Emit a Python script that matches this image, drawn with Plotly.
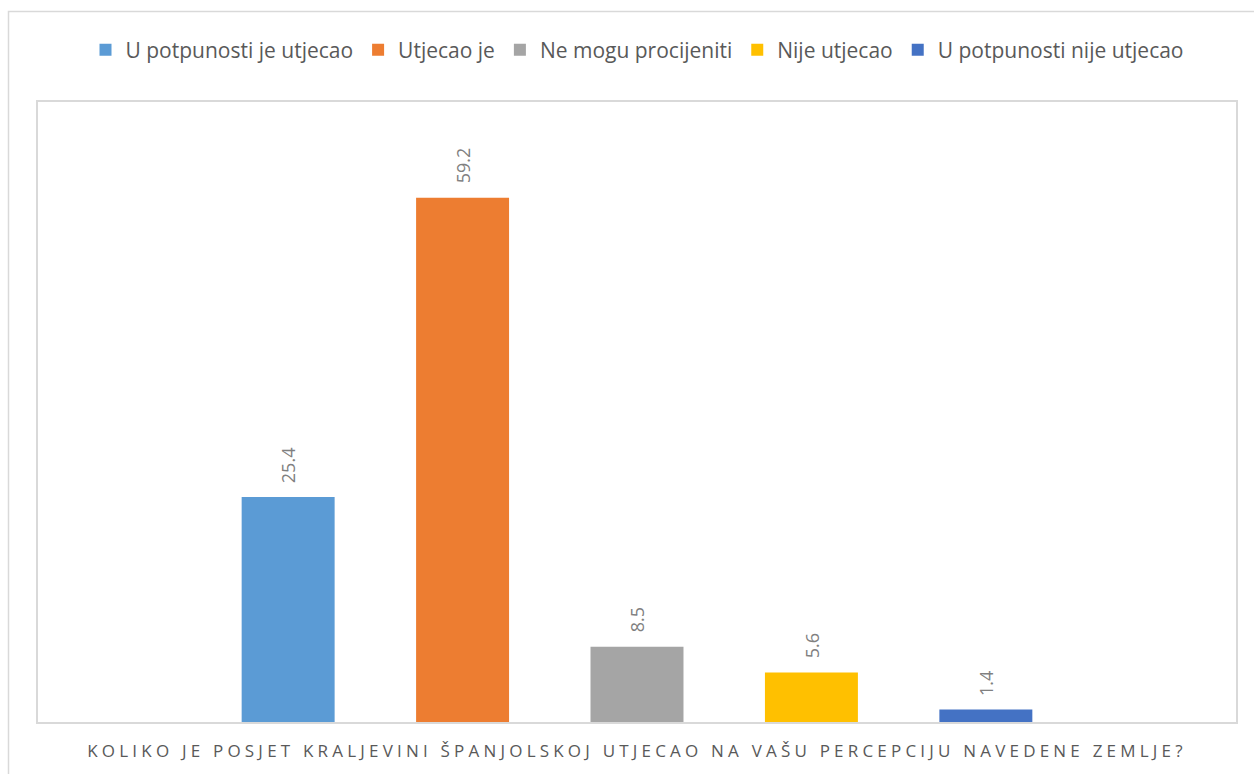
import plotly.graph_objects as go

category = ["KOLIKO JE POSJET KRALJEVINI ŠPANJOLSKOJ UTJECAO NA VAŠU PERCEPCIJU NAVEDENE ZEMLJE?"]
series_names = ["U potpunosti je utjecao", "Utjecao je", "Ne mogu procijeniti",
                "Nije utjecao", "U potpunosti nije utjecao"]
series_values = [25.4, 59.2, 8.5, 5.6, 1.4]
series_colors = ["#5B9BD5", "#ED7D31", "#A5A5A5", "#FFC000", "#4472C4"]

FONT = "Open Sans"
W, H = 1254, 774
L, R, T, B = 38, 18, 102, 52
pw, ph = W - L - R, H - T - B
BARGAP, GROUPGAP = 0.272, 0.467
slot = (1 - BARGAP) * pw / len(series_names)

def px(x):
    return (x - L) / pw

def py(y):
    return (H - B - y) / ph

fig = go.Figure()
annotations = []
n = len(series_names)
for i, (name, val, col) in enumerate(zip(series_names, series_values, series_colors)):
    fig.add_trace(go.Bar(
        x=category, y=[val], name=name, marker_color=col, marker_line_width=0,
    ))
    annotations.append(dict(
        x=category[0], y=val, xref="x", yref="y", text=f"{val:.1f}", showarrow=False,
        textangle=-90, xanchor="center", yanchor="bottom",
        xshift=(i - (n - 1) / 2) * slot, yshift=12,
        font=dict(family=FONT, size=18, color="#808080"),
    ))

fig.update_layout(
    width=W, height=H,
    margin=dict(l=L, r=R, t=T, b=B, autoexpand=False),
    paper_bgcolor="white", plot_bgcolor="white",
    barmode="group", bargap=BARGAP, bargroupgap=GROUPGAP,
    showlegend=True,
    legend=dict(orientation="h", x=0.5, xanchor="center", y=py(50), yanchor="middle",
                font=dict(family=FONT, size=21, color="#595959"),
                traceorder="normal"),
    xaxis=dict(showline=True, linecolor="#D9D9D9", linewidth=1.5, mirror=True,
               showgrid=False, ticks="", zeroline=False, ticklabelstandoff=13,
               tickfont=dict(family=FONT, size=17, color="#595959")),
    yaxis=dict(range=[0, 70], showline=True, linecolor="#D9D9D9", linewidth=1.5, mirror=True,
               showgrid=False, showticklabels=False, ticks="", zeroline=False),
    annotations=annotations,
    shapes=[dict(type="rect", xref="paper", yref="paper",
                 x0=px(8.5), x1=px(1262), y0=py(782), y1=py(11.5),
                 line=dict(color="#D9D9D9", width=1.5), layer="below")],
)

post = """
document.body.style.margin='0';
document.querySelectorAll('.xtick text').forEach(function(e){e.style.letterSpacing='4.2px';});
"""
fig.write_html("out.html", post_script=post, config={"displayModeBar": False})
